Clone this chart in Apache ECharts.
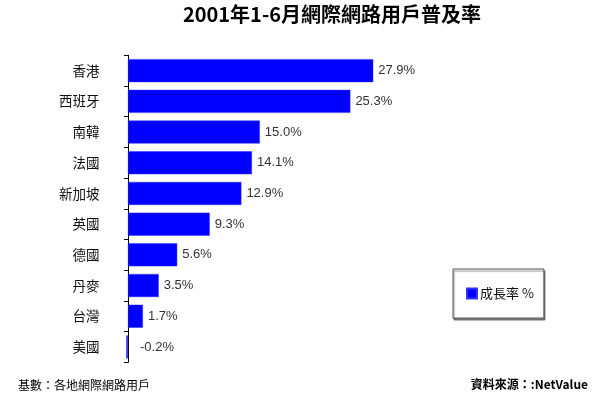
<!DOCTYPE html>
<html><head><meta charset="utf-8">
<script src="https://cdn.jsdelivr.net/npm/echarts@6/dist/echarts.min.js"></script>
<style>html,body{margin:0;padding:0;background:#fff}#c{width:600px;height:397px}</style>
</head><body><div id="c"></div>
<script>
const categories = ['香港','西班牙','南韓','法國','新加坡','英國','德國','丹麥','台灣','美國'];
const values = [27.9, 25.3, 15.0, 14.1, 12.9, 9.3, 5.6, 3.5, 1.7, -0.2];
const seriesName = '成長率 %';
const titleText = '2001年1-6月網際網路用戶普及率';
const footLeft = '基數：各地網際網路用戶';
const footRight = '資料來源：:NetValue';

const font = '"Noto Sans CJK TC", "Liberation Sans", sans-serif';
const chart = echarts.init(document.getElementById('c'), null, {renderer:'canvas'});
chart.setOption({
  animation: false,
  backgroundColor: '#fff',
  textStyle: {fontFamily: font},
  grid: {left: 110.4, top: 55.3, width: 281.3, height: 307, containLabel: false},
  xAxis: {type: 'value', min: -2, max: 30, interval: 2, show: false},
  yAxis: {
    type: 'category', inverse: true, data: categories,
    axisLine: {show: true, onZero: true, lineStyle: {color: '#000', width: 1}},
    axisTick: {show: true, length: 4, lineStyle: {color: '#000'}},
    axisLabel: {color: '#111', fontSize: 13.5, margin: 11, fontFamily: font}
  },
  legend: {
    left: 453, top: 269, orient: 'vertical',
    data: [seriesName],
    icon: 'rect', itemWidth: 10, itemHeight: 10, itemGap: 0,
    padding: [18, 10, 18, 13],
    borderColor: '#555', borderWidth: 1, backgroundColor: '#fff',
    shadowColor: 'rgba(0,0,0,0.45)', shadowOffsetX: 1, shadowOffsetY: 2, shadowBlur: 1,
    textStyle: {color: '#111', fontSize: 13, padding: [0,0,0,-2], fontFamily: font}
  },
  series: [{
    name: seriesName, type: 'bar', data: values.map(v => v < 0 ? {value: v, label: {offset: [7, 0]}} : v),
    barCategoryGap: '25%',
    itemStyle: {color: '#0000FF', borderColor: '#3333ff', borderWidth: 0.5},
    label: {show: true, position: 'right', distance: 5, color: '#333', fontSize: 13,
      fontFamily: '"Liberation Sans", Arial, sans-serif',
      formatter: p => p.value.toFixed(1) + '%'}
  }],
  graphic: [
    {type: 'text', x: 332, y: 14, style: {text: titleText, fill: '#000', font: 'bold 20px ' + font, textAlign: 'center', textVerticalAlign: 'middle'}},
    {type: 'text', x: 18, y: 385, style: {text: footLeft, fill: '#000', font: '12px ' + font, textAlign: 'left', textVerticalAlign: 'middle'}},
    {type: 'text', x: 588, y: 384, style: {text: footRight, fill: '#000', font: 'bold 12px ' + font, textAlign: 'right', textVerticalAlign: 'middle'}}
  ]
});
</script></body></html>
